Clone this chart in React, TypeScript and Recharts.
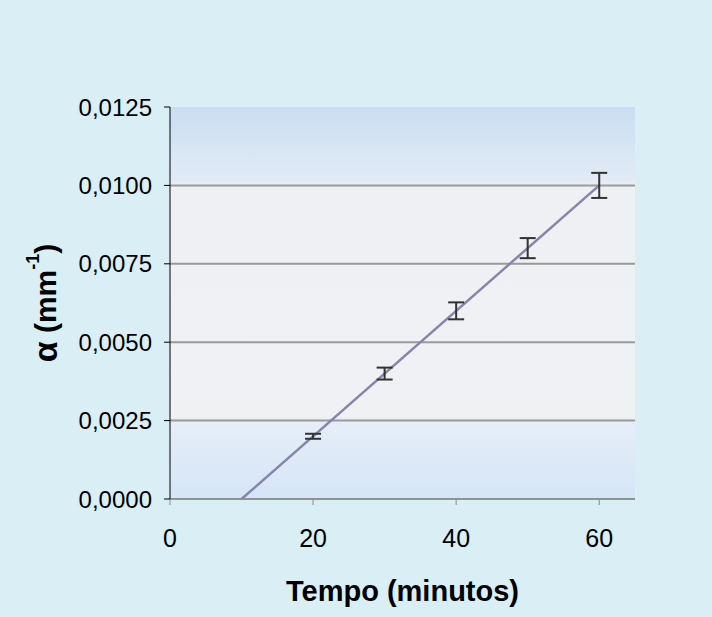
import React from "react";
import {
  ComposedChart,
  Line,
  Scatter,
  ErrorBar,
  XAxis,
  YAxis,
  ReferenceArea,
  ReferenceLine,
} from "recharts";

// measured points (tempo in minutes, alpha in mm^-1) with error
const tempo = [20, 30, 40, 50, 60];
const alpha = [0.002, 0.004, 0.006, 0.008, 0.01];
const alphaErr = [0.00008, 0.00019, 0.00027, 0.00032, 0.0004];

// fitted straight line end points
const fitTempo = [10, 60];
const fitAlpha = [0, 0.01];

const xTicks = [0, 20, 40, 60];
const yTicks = [0, 0.0025, 0.005, 0.0075, 0.01, 0.0125];
const gridLines = [0, 0.0025, 0.005, 0.0075, 0.01];

const points = tempo.map((t, i) => ({ x: t, y: alpha[i], err: alphaErr[i] }));
const fitData = fitTempo.map((t, i) => ({ x: t, y: fitAlpha[i] }));

const font = "'Liberation Sans', Arial, sans-serif";

const fmt = (v: number) => v.toFixed(4).replace(".", ",");

const YTitle = (props: any) => {
  const vb = props.viewBox || {};
  const cx = 45;
  const cy = vb.y + vb.height / 2;
  return (
    <text
      x={cx}
      y={cy}
      transform={`rotate(-90, ${cx}, ${cy})`}
      textAnchor="middle"
      dominantBaseline="central"
      fontFamily={font}
      fontWeight="bold"
      fontSize={30}
      fill="#000"
    >
      <tspan fontSize={34}>α</tspan> (mm
      <tspan dy={-12} fontSize={18}>
        -1
      </tspan>
      <tspan dy={12}>)</tspan>
    </text>
  );
};

const XTitle = (props: any) => {
  const vb = props.viewBox || {};
  return (
    <text
      x={vb.x + vb.width / 2}
      y={601}
      textAnchor="middle"
      fontFamily={font}
      fontWeight="bold"
      fontSize={29}
      fill="#000"
    >
      Tempo (minutos)
    </text>
  );
};

export default function App() {
  return (
    <div style={{ width: 712, height: 617, background: "#d9eef5" }}>
      <style>{`body{margin:0;background:#d9eef5}`}</style>
      <ComposedChart
        width={712}
        height={617}
        margin={{ top: 107, right: 77, bottom: 30, left: 0 }}
      >
        <defs>
          <linearGradient id="plotBg" x1="0" y1="0" x2="0" y2="1">
            <stop offset="0%" stopColor="#c9ddf2" />
            <stop offset="19%" stopColor="#e2ebf6" />
            <stop offset="20%" stopColor="#eef0f3" />
            <stop offset="79%" stopColor="#eff1f3" />
            <stop offset="80%" stopColor="#e6eef8" />
            <stop offset="100%" stopColor="#d5e5f7" />
          </linearGradient>
        </defs>
        <XAxis
          dataKey="x"
          type="number"
          domain={[0, 65]}
          ticks={xTicks}
          allowDataOverflow
          height={88}
          stroke="#8a8a8a"
          tickSize={6}
          tickMargin={24}
          tick={{ fill: "#000", fontSize: 25, fontFamily: font }}
          label={<XTitle />}
        />
        <YAxis
          type="number"
          domain={[0, 0.0125]}
          ticks={yTicks}
          width={170}
          stroke="#000"
          tickSize={6}
          tickMargin={12}
          tickFormatter={fmt}
          tick={{ fill: "#000", fontSize: 24, fontFamily: font }}
          label={<YTitle />}
        />
        <ReferenceArea
          x1={0}
          x2={65}
          y1={0}
          y2={0.0125}
          fill="url(#plotBg)"
          fillOpacity={1}
          stroke="none"
        />
        {gridLines.map((g) => (
          <ReferenceLine key={g} y={g} stroke="#9a9a9a" strokeWidth={2} />
        ))}
        <Line
          data={fitData}
          dataKey="y"
          stroke="#8585ad"
          strokeWidth={2.5}
          dot={false}
          activeDot={false}
          isAnimationActive={false}
        />
        <Scatter
          data={points}
          dataKey="y"
          shape={() => <g />}
          isAnimationActive={false}
        >
          <ErrorBar
            dataKey="err"
            direction="y"
            width={8}
            stroke="#333"
            strokeWidth={2}
            isAnimationActive={false}
          />
        </Scatter>
      </ComposedChart>
    </div>
  );
}
